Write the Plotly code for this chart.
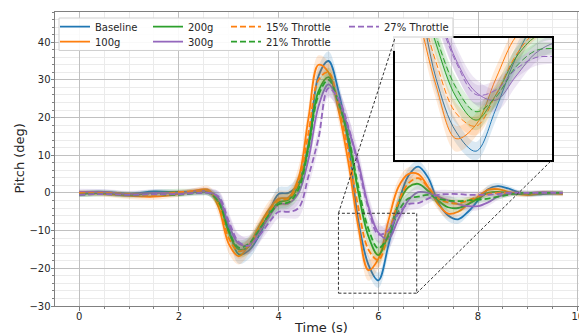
import plotly.graph_objects as go

# ---------------- data ----------------
time_s = [0, 0.5, 1.0, 1.5, 2.0, 2.4, 2.6, 2.8, 3.0, 3.2, 3.4, 3.6, 3.8, 4.0, 4.2, 4.4,
          4.6, 4.8, 5.0, 5.2, 5.4, 5.6, 5.8, 6.0, 6.2, 6.4, 6.6, 6.8, 7.0, 7.2, 7.4,
          7.6, 7.8, 8.0, 8.2, 8.4, 8.6, 8.8, 9.0, 9.3, 9.7]

baseline = [0.2, 0.3, -0.2, 0.4, 0.2, 0.3, 0.3, -1.5, -9.5, -16.3, -15.3, -11.5, -5.5, -0.3,
            0.0, 2.5, 13.0, 31.0, 35.0, 27.0, 13.0, -7.5, -19.0, -23.2, -14.0, -3.0, 4.5,
            7.0, 4.0, -2.5, -6.0, -7.0, -5.0, -2.0, 1.0, 1.8, 1.2, 0.2, -0.5, -0.3, 0.0]
g100 = [0.0, -0.3, -0.8, -1.0, -0.3, 0.8, 0.8, -4.0, -13.5, -16.8, -14.0, -9.0, -4.5, -1.5,
        -1.2, 4.0, 20.0, 34.0, 32.0, 22.0, 8.0, -9.0, -20.5, -17.5, -7.5, 1.5, 5.0, 5.0,
        1.5, -3.0, -5.5, -5.0, -3.0, -1.0, 0.8, 1.0, 0.3, -0.3, -0.5, 0.0, -0.3]
g200 = [-0.3, 0.0, -0.5, 0.0, 0.3, 0.3, 0.2, -2.5, -10.5, -15.0, -14.2, -10.0, -6.0, -2.5,
        -1.8, 2.0, 12.5, 27.0, 30.7, 24.0, 14.5, 0.0, -11.5, -16.5, -11.0, -3.0, 1.5, 2.4,
        0.5, -2.0, -3.8, -4.0, -3.0, -1.5, 0.0, 0.3, 0.0, -0.3, -0.3, 0.0, 0.0]
g300 = [0.3, 0.2, -0.3, 0.0, 0.0, 0.5, 0.3, -1.5, -8.5, -13.5, -13.8, -10.5, -6.5, -3.0,
        -2.8, 0.0, 9.0, 23.0, 28.8, 24.5, 17.0, 8.0, -3.5, -10.5, -12.2, -7.0, -2.0, 0.2,
        0.0, -1.0, -2.0, -3.0, -3.5, -3.5, -2.5, -1.0, -0.3, 0.0, 0.0, 0.2, 0.0]
thr15 = [0.0, 0.0, -0.3, -0.5, 0.2, 0.5, 0.4, -3.0, -12.0, -15.5, -14.0, -9.5, -5.0, -2.0,
         -1.5, 3.0, 16.0, 30.0, 32.0, 23.0, 11.0, -4.0, -15.0, -17.8, -11.0, -2.5, 2.5, 3.9,
         1.5, -1.5, -2.5, -2.8, -2.0, -1.0, -0.3, 0.0, 0.0, 0.0, -0.2, 0.0, 0.0]
thr21 = [-0.5, -0.3, -0.5, -0.3, -0.5, 0.0, 0.0, -2.5, -10.0, -14.5, -13.5, -10.0, -6.0, -3.0,
         -2.5, 1.0, 12.0, 26.0, 30.0, 24.0, 15.0, 1.5, -9.5, -14.7, -11.5, -5.0, -1.5, -1.0,
         -0.5, -1.5, -2.0, -2.2, -2.0, -1.8, -1.5, -1.0, -0.5, 0.0, 0.0, 0.0, 0.0]
thr27 = [-0.5, -0.3, -0.5, -0.3, -0.3, 0.0, 0.0, -1.0, -7.5, -13.0, -14.0, -11.5, -8.0, -5.0,
         -5.0, -4.0, 4.5, 14.5, 27.8, 25.0, 17.5, 7.0, -4.0, -11.0, -10.0, -5.5, -3.0, -2.7,
         -1.5, -0.5, -0.3, -0.3, -0.5, -0.5, -0.5, -0.3, 0.0, 0.0, 0.0, 0.0, 0.0]

# standard deviation (shaded band half-width)
baseline_sd = [0.6, 0.6, 0.6, 0.6, 0.6, 0.7, 0.8, 1.5, 2.5, 2.5, 2.2, 2.0, 2.0, 1.8, 1.8, 2.5,
               3.0, 2.5, 2.5, 2.5, 3.0, 3.0, 2.5, 2.0, 2.5, 2.5, 2.0, 1.5, 1.5, 1.5, 1.5, 1.2,
               1.0, 1.0, 1.0, 0.8, 0.7, 0.6, 0.6, 0.6, 0.6]
g100_sd = [0.7, 0.7, 0.8, 0.8, 0.7, 0.8, 1.0, 2.0, 2.5, 2.2, 2.2, 2.2, 2.2, 2.0, 2.0, 3.0,
           3.0, 2.5, 2.8, 3.0, 3.0, 3.0, 2.8, 2.5, 2.5, 2.0, 1.8, 1.5, 1.5, 1.5, 1.3, 1.2,
           1.0, 1.0, 0.9, 0.8, 0.7, 0.7, 0.6, 0.6, 0.6]
g200_sd = [0.8, 0.8, 0.8, 0.8, 0.8, 0.8, 1.0, 1.8, 2.2, 2.0, 2.0, 2.0, 2.0, 1.8, 1.8, 2.5,
           2.8, 2.5, 2.5, 2.5, 2.8, 2.8, 2.5, 2.2, 2.2, 2.0, 1.8, 1.5, 1.3, 1.3, 1.2, 1.2,
           1.0, 1.0, 0.9, 0.8, 0.7, 0.6, 0.6, 0.6, 0.6]
g300_sd = [0.8, 0.8, 0.9, 0.9, 0.8, 0.9, 1.0, 1.8, 2.5, 2.5, 2.5, 2.5, 2.5, 2.2, 2.2, 2.8,
           3.0, 3.0, 3.0, 3.0, 3.2, 3.2, 3.0, 2.8, 2.5, 2.2, 2.0, 1.8, 1.5, 1.5, 1.4, 1.3,
           1.2, 1.1, 1.0, 0.9, 0.8, 0.7, 0.6, 0.6, 0.6]
thr15_sd = [0.6, 0.6, 0.6, 0.6, 0.6, 0.7, 0.8, 1.5, 2.0, 2.0, 1.8, 1.8, 1.8, 1.6, 1.6, 2.2,
            2.5, 2.2, 2.2, 2.2, 2.5, 2.5, 2.2, 2.0, 2.0, 1.8, 1.5, 1.3, 1.2, 1.2, 1.1, 1.0,
            0.9, 0.9, 0.8, 0.7, 0.6, 0.6, 0.6, 0.6, 0.6]
thr21_sd = [0.6, 0.6, 0.6, 0.6, 0.6, 0.7, 0.8, 1.5, 2.0, 2.0, 1.8, 1.8, 1.8, 1.6, 1.6, 2.2,
            2.5, 2.2, 2.2, 2.2, 2.5, 2.5, 2.2, 2.0, 2.0, 1.8, 1.5, 1.3, 1.2, 1.2, 1.1, 1.0,
            0.9, 0.9, 0.8, 0.7, 0.6, 0.6, 0.6, 0.6, 0.6]
thr27_sd = [0.6, 0.6, 0.6, 0.6, 0.6, 0.7, 0.8, 1.5, 2.2, 2.2, 2.0, 2.0, 2.0, 1.8, 1.8, 2.5,
            2.8, 2.5, 2.5, 2.5, 2.8, 2.8, 2.5, 2.2, 2.2, 2.0, 1.8, 1.5, 1.3, 1.2, 1.1, 1.0,
            0.9, 0.9, 0.8, 0.7, 0.6, 0.6, 0.6, 0.6, 0.6]

series_names = ["Baseline", "100g", "200g", "300g", "15% Throttle", "21% Throttle", "27% Throttle"]
series_values = [baseline, g100, g200, g300, thr15, thr21, thr27]
series_sd = [baseline_sd, g100_sd, g200_sd, g300_sd, thr15_sd, thr21_sd, thr27_sd]

x_ticks = [0, 2, 4, 6, 8, 10]
y_ticks = [-30, -20, -10, 0, 10, 20, 30, 40]
x_title = "Time (s)"
y_title = "Pitch (deg)"

# dashed box marked on the main axes, and the window shown by the inset
box_x = [5.2, 6.77]
box_y = [-26.6, -5.4]
inset_x = [5.19, 6.76]
inset_y = [-25.1, 1.2]

# ---------------- styles / geometry ----------------
colors = ["#1f77b4", "#ff7f0e", "#2ca02c", "#9467bd", "#ff7f0e", "#2ca02c", "#9467bd"]
dashes = ["solid", "solid", "solid", "solid", "6px,3px", "6px,3px", "6px,3px"]
legend_ids = ["legend", "legend2", "legend3", "legend4", "legend5", "legend6", "legend7"]

PAGE_OFFSET = 8                       # browser body margin around the figure
SCR_L, SCR_R, SCR_T, SCR_B = 55, 587, 12, 306   # plot area in window pixels
W, H = 587 - PAGE_OFFSET, 335 - PAGE_OFFSET
ML, MT = SCR_L - PAGE_OFFSET, SCR_T - PAGE_OFFSET
MR = (587 - PAGE_OFFSET) - (SCR_R - PAGE_OFFSET)
MB = H - (SCR_B - PAGE_OFFSET)
PW, PH = SCR_R - SCR_L, SCR_B - SCR_T

X_RANGE = [-0.485, 10.185]
Y_RANGE = [-30, 48]
FONT = "DejaVu Sans"


def px_x(p):
    return (p - SCR_L) / PW


def px_y(p):
    return (SCR_B - p) / PH


INSET_DX = [px_x(395), px_x(552)]
INSET_DY = [px_y(160), px_y(38)]


def rgba(h, a):
    h = h.lstrip("#")
    return "rgba(%d,%d,%d,%.2f)" % (int(h[0:2], 16), int(h[2:4], 16), int(h[4:6], 16), a)


fig = go.Figure()

for xa, ya, lw, main in [("x", "y", 1.8, True), ("x2", "y2", 1.0, False)]:
    for name, vals, sd, col, dash, lg in zip(series_names, series_values, series_sd,
                                             colors, dashes, legend_ids):
        lower = [v - s for v, s in zip(vals, sd)]
        upper = [v + s for v, s in zip(vals, sd)]
        fig.add_trace(go.Scatter(x=time_s, y=lower, mode="lines", xaxis=xa, yaxis=ya,
                                 line=dict(width=0, shape="spline", color=col),
                                 showlegend=False, hoverinfo="skip"))
        fig.add_trace(go.Scatter(x=time_s, y=upper, mode="lines", xaxis=xa, yaxis=ya,
                                 line=dict(width=0, shape="spline", color=col),
                                 fill="tonexty", fillcolor=rgba(col, 0.16),
                                 showlegend=False, hoverinfo="skip"))
        fig.add_trace(go.Scatter(x=time_s, y=vals, mode="lines", name=name, xaxis=xa, yaxis=ya,
                                 line=dict(width=lw, shape="spline", color=col, dash=dash),
                                 showlegend=main, legend=lg))

# ---------------- axes ----------------
grid_major = "#c0c0c0"
grid_minor = "#ebebeb"
axis_col = "#808080"

fig.update_layout(
    template="none",
    width=W, height=H,
    margin=dict(l=ML, r=MR, t=MT, b=MB),
    paper_bgcolor="white", plot_bgcolor="white",
    font=dict(family=FONT, size=10, color="#262626"),
    xaxis=dict(range=X_RANGE, tickvals=x_ticks, showgrid=True, gridcolor=grid_major,
               gridwidth=0.8, zeroline=False, showline=True, linecolor=axis_col,
               linewidth=1, mirror=True, ticks="outside", ticklen=3.5, tickcolor=axis_col,
               tickfont=dict(size=10), automargin=False, ticklabelstandoff=-3,
               minor=dict(dtick=0.5, tick0=0, showgrid=True, gridcolor=grid_minor,
                          ticks="outside", ticklen=2, tickcolor=axis_col)),
    yaxis=dict(range=Y_RANGE, tickvals=y_ticks, showgrid=True, gridcolor=grid_major,
               gridwidth=0.8, zeroline=False, showline=True, linecolor=axis_col,
               linewidth=1, mirror=True, ticks="outside", ticklen=3.5, tickcolor=axis_col,
               tickfont=dict(size=10), automargin=False, ticklabelstandoff=-2,
               minor=dict(dtick=2, tick0=0, showgrid=True, gridcolor=grid_minor,
                          ticks="outside", ticklen=2, tickcolor=axis_col)),
    xaxis2=dict(domain=INSET_DX, anchor="y2", range=inset_x, showticklabels=False,
                ticks="", showgrid=True, gridcolor="#d6d6d6", tick0=6.04, dtick=0.285,
                zeroline=False, showline=True, linecolor="black", linewidth=1.8, mirror=True,
                automargin=False),
    yaxis2=dict(domain=INSET_DY, anchor="x2", range=inset_y, showticklabels=False,
                ticks="", showgrid=True, gridcolor="#d6d6d6", tick0=0, dtick=4,
                zeroline=False, showline=True, linecolor="black", linewidth=1.8, mirror=True,
                automargin=False),
)

# axis titles
fig.add_annotation(text=x_title, xref="paper", yref="paper", x=px_x(321), y=px_y(327.5),
                   xanchor="center", yanchor="middle", showarrow=False,
                   font=dict(family=FONT, size=13, color="#262626"))
fig.add_annotation(text=y_title, xref="paper", yref="paper", x=px_x(18.5), y=0.5,
                   xanchor="center", yanchor="middle", showarrow=False, textangle=-90,
                   font=dict(family=FONT, size=13, color="#262626"))

# ---------------- legends (4 columns x 2 rows) ----------------
col_left_px = [55, 148, 226, 344]
row_top_px = [12.2, 27.2]
slots = [(0, 0), (0, 1), (1, 0), (1, 1), (2, 0), (2, 1), (3, 0)]
for lg, (c, r) in zip(legend_ids, slots):
    fig.update_layout({lg: dict(x=px_x(col_left_px[c]), y=px_y(row_top_px[r]),
                                xanchor="left", yanchor="top",
                                bgcolor="rgba(0,0,0,0)", borderwidth=0,
                                font=dict(family=FONT, size=10, color="#262626"))})

# legend frame (the inset covers its lower-right corner)
fl, fr, ft, fb = 59, 453, 18, 50.5
ix0, iy1 = 395, 38


def pt(xp, yp):
    return "%.5f,%.5f" % (px_x(xp), px_y(yp))


fill_path = ("M" + pt(fl, ft) + " L" + pt(fr, ft) + " L" + pt(fr, iy1) + " L" + pt(ix0, iy1) +
             " L" + pt(ix0, fb) + " L" + pt(fl, fb) + " Z")
fig.add_shape(type="path", xref="paper", yref="paper", path=fill_path, layer="above",
              fillcolor="rgba(255,255,255,0.9)", line=dict(width=0))
edge_path = ("M" + pt(ix0, fb) + " L" + pt(fl, fb) + " L" + pt(fl, ft) + " L" + pt(fr, ft) +
             " L" + pt(fr, iy1))
fig.add_shape(type="path", xref="paper", yref="paper", path=edge_path, layer="above",
              line=dict(color="#d0d0d0", width=1))

# zoom rectangle and connector lines
fig.add_shape(type="rect", xref="x", yref="y", x0=box_x[0], x1=box_x[1],
              y0=box_y[0], y1=box_y[1], line=dict(color="#333333", width=1, dash="3px,2px"))


def to_paper_x(v):
    return (v - X_RANGE[0]) / (X_RANGE[1] - X_RANGE[0])


def to_paper_y(v):
    return (v - Y_RANGE[0]) / (Y_RANGE[1] - Y_RANGE[0])


fig.add_shape(type="line", xref="paper", yref="paper",
              x0=to_paper_x(box_x[0]), y0=to_paper_y(box_y[1]), x1=INSET_DX[0], y1=INSET_DY[1],
              line=dict(color="#333333", width=1, dash="3px,2px"))
fig.add_shape(type="line", xref="paper", yref="paper",
              x0=to_paper_x(box_x[1]), y0=to_paper_y(box_y[0]), x1=INSET_DX[1], y1=INSET_DY[0],
              line=dict(color="#333333", width=1, dash="3px,2px"))

fig.write_html("out.html")
